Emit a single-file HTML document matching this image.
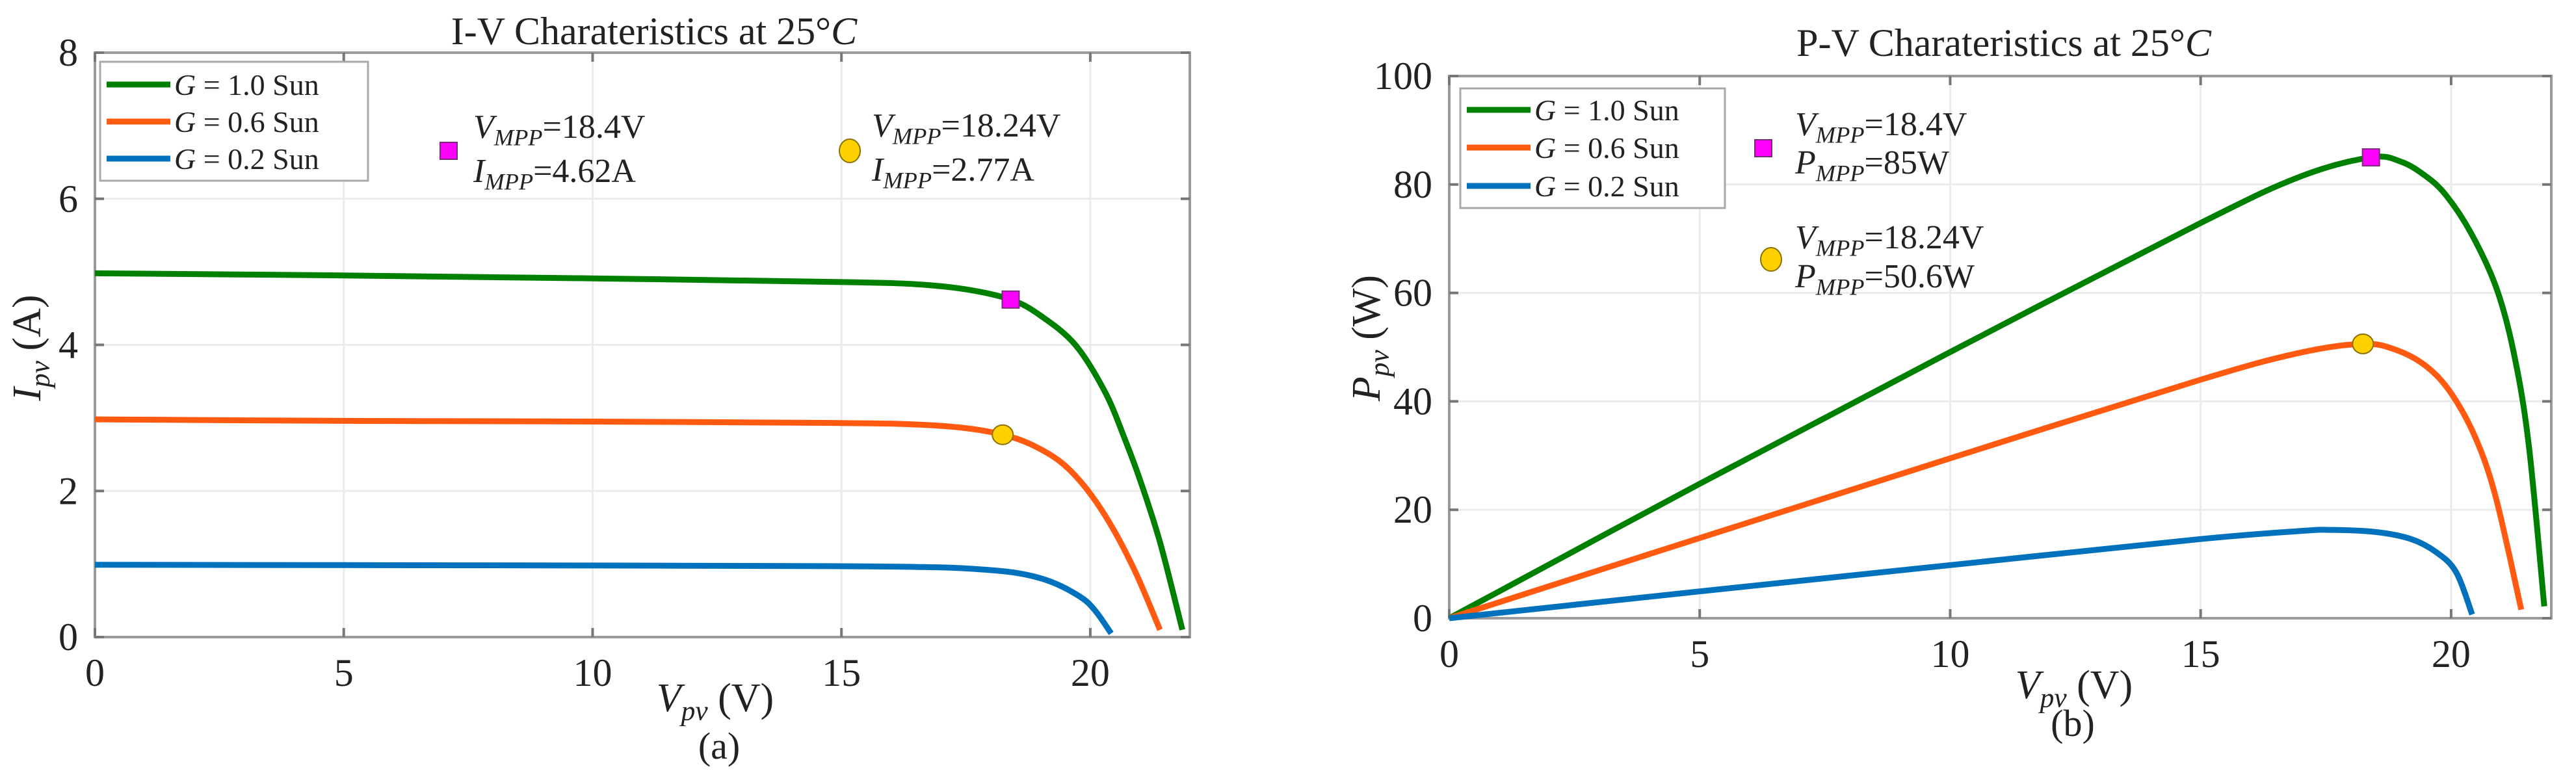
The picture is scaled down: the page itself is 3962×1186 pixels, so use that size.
<!DOCTYPE html>
<html><head><meta charset="utf-8"><style>
html,body{margin:0;padding:0;background:#fff;}
svg{display:block;font-family:"Liberation Serif","DejaVu Serif",serif;}
</style></head><body>
<svg id="fig" width="3962" height="1186" viewBox="0 0 3962 1186" xmlns="http://www.w3.org/2000/svg">
<rect x="0" y="0" width="3962" height="1186" fill="#fff"/>
</svg>
<script>
// ---- data ----
const xTicks = [0, 5, 10, 15, 20];
const ivYTicks = [0, 2, 4, 6, 8];
const pvYTicks = [0, 20, 40, 60, 80, 100];
const seriesNames = ["G = 1.0 Sun", "G = 0.6 Sun", "G = 0.2 Sun"];

const ivV10 = [0, 5, 10, 15, 16.5, 17.5, 18.4, 19.0, 19.7, 20.3, 20.7, 21.0, 21.4, 21.85];
const ivI10 = [4.98, 4.95, 4.91, 4.86, 4.83, 4.76, 4.62, 4.4, 4.0, 3.35, 2.7, 2.15, 1.3, 0.1];
const ivV06 = [0, 5, 10, 15, 16.5, 17.5, 18.24, 18.8, 19.4, 19.9, 20.4, 20.9, 21.4];
const ivI06 = [2.98, 2.96, 2.95, 2.93, 2.91, 2.86, 2.77, 2.64, 2.4, 2.05, 1.55, 0.9, 0.1];
const ivV02 = [0, 5, 10, 15, 16.5, 17.5, 18.5, 19.2, 19.8, 20.1, 20.42];
const ivI02 = [0.99, 0.985, 0.98, 0.97, 0.96, 0.94, 0.88, 0.76, 0.55, 0.36, 0.05];

const pvV10 = [0, 5, 10, 15, 17, 18.4, 19.0, 19.5, 19.9, 20.4, 20.9, 21.25, 21.55, 21.86];
const pvP10 = [0, 24.8, 49.1, 72.9, 81.5, 85, 84.2, 81.5, 78, 71, 61, 49, 32, 2.2];
const pvV06 = [0, 5, 10, 15, 17, 18.24, 18.9, 19.5, 20.0, 20.5, 20.9, 21.4];
const pvP06 = [0, 14.8, 29.5, 44, 49, 50.6, 49.5, 46.5, 41.5, 33, 22, 1.6];
const pvV02 = [0, 5, 10, 15, 17, 17.6, 18.5, 19.2, 19.7, 20.1, 20.42];
const pvP02 = [0, 4.95, 9.8, 14.6, 16.1, 16.3, 15.9, 14.6, 12.2, 8.5, 0.7];

const mppSquare = {v: 18.4, i: 4.62, p: 85};
const mppCircle = {v: 18.24, i: 2.77, p: 50.6};

const colors = ["#008000", "#ff5a10", "#0072bd"];
// ---- helpers ----
const NS = "http://www.w3.org/2000/svg";
const svg = document.getElementById("fig");
function mk(tag, attrs, parent) {
  const e = document.createElementNS(NS, tag);
  for (const k in attrs) e.setAttribute(k, attrs[k]);
  (parent || svg).appendChild(e);
  return e;
}
function smoothPath(pts) {
  let d = "M" + pts[0][0].toFixed(1) + "," + pts[0][1].toFixed(1);
  for (let i = 0; i < pts.length - 1; i++) {
    const p0 = pts[i - 1] || pts[i], p1 = pts[i], p2 = pts[i + 1], p3 = pts[i + 2] || p2;
    const c1 = [p1[0] + (p2[0] - p0[0]) / 6, p1[1] + (p2[1] - p0[1]) / 6];
    const c2 = [p2[0] - (p3[0] - p1[0]) / 6, p2[1] - (p3[1] - p1[1]) / 6];
    d += "C" + c1[0].toFixed(1) + "," + c1[1].toFixed(1) + " " + c2[0].toFixed(1) + "," + c2[1].toFixed(1) + " " + p2[0].toFixed(1) + "," + p2[1].toFixed(1);
  }
  return d;
}
function mathLabel(g, x, y, main, sub, rest, size, anchor) {
  const t = mk("text", {x: x, y: y, "font-size": size, fill: "#222", "text-anchor": anchor || "start"}, g);
  const a = document.createElementNS(NS, "tspan"); a.setAttribute("font-style", "italic"); a.textContent = main; t.appendChild(a);
  const b = document.createElementNS(NS, "tspan"); b.setAttribute("font-style", "italic"); b.setAttribute("font-size", size * 0.7); b.setAttribute("dy", size * 0.22); b.textContent = sub; t.appendChild(b);
  const c = document.createElementNS(NS, "tspan"); c.setAttribute("dy", -size * 0.22); c.textContent = rest; t.appendChild(c);
  return t;
}

function drawPanel(cfg) {
  const g = mk("g", {});
  
  
  const X = v => cfg.x0 + (v - 0) / 22 * (cfg.x1 - cfg.x0);
  const Y = v => cfg.y0 - v / cfg.ymax * (cfg.y0 - cfg.y1);
  xTicks.forEach(t => {
    const l = mk("line", {x1: X(t), x2: X(t), y1: cfg.y1, y2: cfg.y0, stroke: "#ebebeb", "stroke-width": 3}, g);
    
    
  });
  cfg.yTicks.forEach(t => {
    const l = mk("line", {x1: cfg.x0, x2: cfg.x1, y1: Y(t), y2: Y(t), stroke: "#ebebeb", "stroke-width": 3}, g);
    
    
  });
  const box = mk("rect", {x: cfg.x0, y: cfg.y1, width: cfg.x1 - cfg.x0, height: cfg.y0 - cfg.y1, fill: "none", stroke: "#9a9a9a", "stroke-width": 4}, g);
  
  
  xTicks.forEach(t => {
    mk("line", {x1: X(t), x2: X(t), y1: cfg.y0, y2: cfg.y0 - 14, stroke: "#777", "stroke-width": 4}, g);
    mk("line", {x1: X(t), x2: X(t), y1: cfg.y1, y2: cfg.y1 + 14, stroke: "#777", "stroke-width": 4}, g);
    const tx = mk("text", {x: X(t), y: cfg.y0 + 75, "font-size": 60, fill: "#222", "text-anchor": "middle"}, g);
    tx.textContent = t;
    
    
  });
  cfg.yTicks.forEach(t => {
    mk("line", {x1: cfg.x0, x2: cfg.x0 + 14, y1: Y(t), y2: Y(t), stroke: "#777", "stroke-width": 4}, g);
    mk("line", {x1: cfg.x1, x2: cfg.x1 - 14, y1: Y(t), y2: Y(t), stroke: "#777", "stroke-width": 4}, g);
    const ty = mk("text", {x: cfg.x0 - 26, y: Y(t) + 20, "font-size": 60, fill: "#222", "text-anchor": "end"}, g);
    ty.textContent = t;
    
    
  });
  cfg.series.forEach((s, k) => {
    const pts = s[0].map((v, i) => [X(v), Y(s[1][i])]);
    const p = mk("path", {d: smoothPath(pts), fill: "none", stroke: colors[k], "stroke-width": 9, "stroke-linecap": "butt", "stroke-linejoin": "round"}, g);
    
    
  });
  const sq = mk("rect", {x: X(mppSquare.v) - 13, y: Y(cfg.sqVal) - 13, width: 26, height: 26, fill: "#ff00ff", stroke: "#7a2a7a", "stroke-width": 2}, g);
  
  
  const ci = mk("ellipse", {cx: X(mppCircle.v), cy: Y(cfg.ciVal), rx: 16, ry: 15, fill: "#ffd000", stroke: "#8a7000", "stroke-width": 2}, g);
  
  
  const lg = mk("g", {}, g);
  
  
  const L = cfg.legend;
  mk("rect", {x: L.x, y: L.y, width: L.w, height: L.h, fill: "#fff", stroke: "#a8a8a8", "stroke-width": 3}, lg);
  seriesNames.forEach((n, k) => {
    const ry = L.rows[k];
    const ent = mk("g", {}, lg);
    
    
    mk("line", {x1: L.x + 10, x2: L.x + 108, y1: ry, y2: ry, stroke: colors[k], "stroke-width": 9}, ent);
    const t = mk("text", {x: L.x + 114, y: ry + 16, "font-size": 46, fill: "#222"}, ent);
    const a = document.createElementNS(NS, "tspan"); a.setAttribute("font-style", "italic"); a.textContent = "G"; t.appendChild(a);
    const b = document.createElementNS(NS, "tspan"); b.textContent = n.slice(1); t.appendChild(b);
  });
  cfg.notes.forEach(nt => {
    const ng = mk("g", {}, g);
    
    
    if (nt.shape === "sq") mk("rect", {x: nt.mx - 13, y: nt.my - 13, width: 26, height: 26, fill: "#ff00ff", stroke: "#7a2a7a", "stroke-width": 2}, ng);
    else mk("ellipse", {cx: nt.mx, cy: nt.my, rx: 16, ry: 18, fill: "#ffd000", stroke: "#8a7000", "stroke-width": 2}, ng);
    mathLabel(ng, nt.tx, nt.b1, "V", "MPP", "=" + nt.l1, 52);
    mathLabel(ng, nt.tx, nt.b2, nt.q, "MPP", "=" + nt.l2, 52);
  });
  const ti = mk("text", {x: cfg.titleX, y: cfg.titleY, "font-size": 60, fill: "#222", "text-anchor": "middle"}, g);
  ti.textContent = cfg.title + " at 25°";
  const tc = document.createElementNS(NS, "tspan"); tc.setAttribute("font-style", "italic"); tc.textContent = "C"; ti.appendChild(tc);
  
  
  const xl = mathLabel(g, cfg.xlabX, cfg.xlabY, "V", "pv", " (V)", 62, "middle");
  
  
  const yg = mk("g", {transform: "translate(" + cfg.ylabX + "," + cfg.ylabY + ") rotate(-90)"}, g);
  const yl = mathLabel(yg, 0, 0, cfg.yq, "pv", cfg.yunit, 62, "middle");
  
  
  const cp = mk("text", {x: cfg.capX, y: cfg.capY, "font-size": 58, fill: "#222", "text-anchor": "middle"}, g);
  cp.textContent = cfg.cap;
  
  
}

drawPanel({
  name: "iv-chart", x0: 146, x1: 1830, y0: 980, y1: 81, ymax: 8, yTicks: ivYTicks,
  series: [[ivV10, ivI10], [ivV06, ivI06], [ivV02, ivI02]],
  sqVal: mppSquare.i, ciVal: mppCircle.i,
  legend: {x: 154, y: 95, w: 412, h: 183, rows: [130, 187, 244]},
  notes: [
    {shape: "sq", mx: 690, my: 232, tx: 728, b1: 212, b2: 280, q: "I", l1: "18.4V", l2: "4.62A"},
    {shape: "ci", mx: 1307, my: 232, tx: 1341, b1: 210, b2: 278, q: "I", l1: "18.24V", l2: "2.77A"}
  ],
  title: "I-V Charateristics", titleX: 1006, titleY: 68,
  xlabX: 1100, xlabY: 1094, ylabX: 62, ylabY: 535, yq: "I", yunit: " (A)",
  cap: "(a)", capX: 1106, capY: 1167
});
drawPanel({
  name: "pv-chart", x0: 2229, x1: 3924, y0: 951, y1: 117, ymax: 100, yTicks: pvYTicks,
  series: [[pvV10, pvP10], [pvV06, pvP06], [pvV02, pvP02]],
  sqVal: mppSquare.p, ciVal: mppCircle.p,
  legend: {x: 2246, y: 136, w: 407, h: 184, rows: [169, 227, 286]},
  notes: [
    {shape: "sq", mx: 2712, my: 228, tx: 2761, b1: 208, b2: 267, q: "P", l1: "18.4V", l2: "85W"},
    {shape: "ci", mx: 2724, my: 399, tx: 2761, b1: 382, b2: 442, q: "P", l1: "18.24V", l2: "50.6W"}
  ],
  title: "P-V Charateristics", titleX: 3082, titleY: 86,
  xlabX: 3190, xlabY: 1074, ylabX: 2122, ylabY: 520, yq: "P", yunit: " (W)",
  cap: "(b)", capX: 3188, capY: 1132
});
</script>
</body></html>
